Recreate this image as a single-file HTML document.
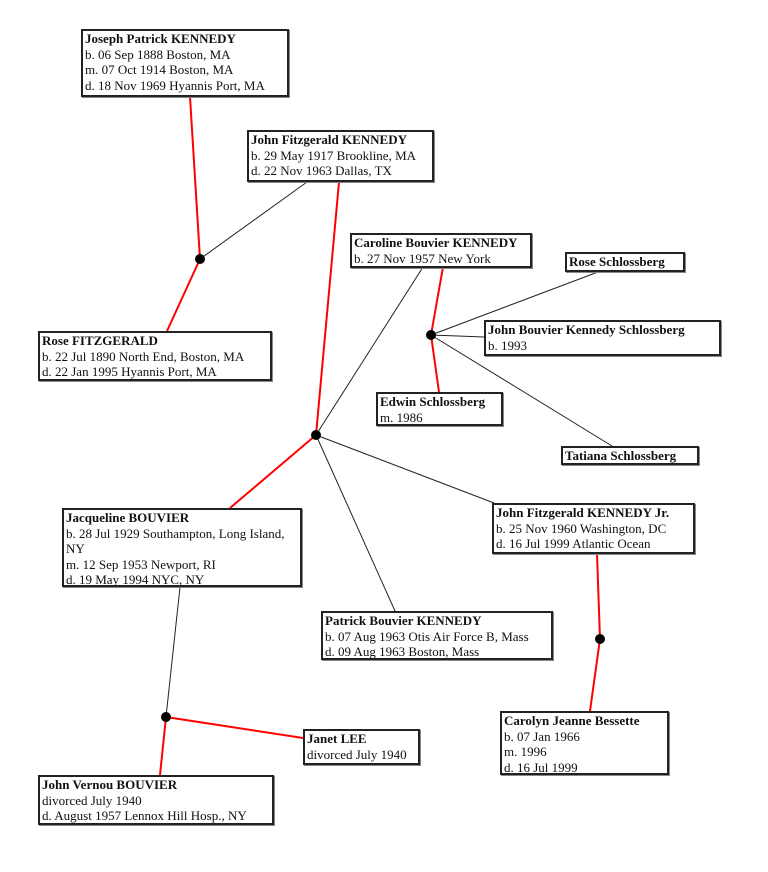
<!DOCTYPE html>
<html><head><meta charset="utf-8"><style>
body{margin:0;width:768px;height:872px;background:#fff;position:relative;overflow:hidden;font-family:"Liberation Serif","DejaVu Serif",serif;font-size:13px;color:#111}
.b{position:absolute;box-sizing:border-box;border:2px solid #222;background:#fff;padding:0 2px;line-height:15.5px;white-space:nowrap;box-shadow:1px 1px 0 #888;overflow:hidden}
.b b{font-weight:bold}
svg{position:absolute;left:0;top:0}
</style></head><body>
<svg width="768" height="872">
<g stroke="red" stroke-width="2" fill="none">
<line x1="190" y1="97" x2="200" y2="259"/><line x1="200" y1="259" x2="167" y2="331"/>
<line x1="339" y1="182" x2="316" y2="435"/><line x1="316" y1="435" x2="230" y2="508"/>
<line x1="443" y1="267" x2="431" y2="335"/><line x1="431" y1="335" x2="439" y2="392"/>
<line x1="597" y1="554" x2="600" y2="639"/><line x1="600" y1="639" x2="590" y2="711"/>
<line x1="166" y1="717" x2="160" y2="775"/><line x1="166" y1="717" x2="303" y2="738"/>
</g>
<g stroke="#222" stroke-width="1" fill="none">
<line x1="200" y1="259" x2="307" y2="182"/>
<line x1="316" y1="435" x2="423" y2="267"/><line x1="316" y1="435" x2="494" y2="503"/><line x1="316" y1="435" x2="395" y2="611"/>
<line x1="431" y1="335" x2="598" y2="272"/><line x1="431" y1="335" x2="484" y2="337"/><line x1="431" y1="335" x2="612" y2="446"/>
<line x1="180" y1="587" x2="166" y2="717"/>
</g>
<g fill="#000"><circle cx="200" cy="259" r="5"/><circle cx="431" cy="335" r="5"/><circle cx="316" cy="435" r="5"/><circle cx="600" cy="639" r="5"/><circle cx="166" cy="717" r="5"/></g>
</svg>
<div class="b" style="left:81px;top:29px;width:208px;height:68px"><b>Joseph Patrick KENNEDY</b><br>b. 06 Sep 1888 Boston, MA<br>m. 07 Oct 1914 Boston, MA<br>d. 18 Nov 1969 Hyannis Port, MA</div>
<div class="b" style="left:247px;top:130px;width:187px;height:52px"><b>John Fitzgerald KENNEDY</b><br>b. 29 May 1917 Brookline, MA<br>d. 22 Nov 1963 Dallas, TX</div>
<div class="b" style="left:350px;top:233px;width:182px;height:35px"><b>Caroline Bouvier KENNEDY</b><br>b. 27 Nov 1957 New York</div>
<div class="b" style="left:565px;top:252px;width:120px;height:20px"><b>Rose Schlossberg</b></div>
<div class="b" style="left:484px;top:320px;width:237px;height:36px"><b>John Bouvier Kennedy Schlossberg</b><br>b. 1993</div>
<div class="b" style="left:376px;top:392px;width:127px;height:34px"><b>Edwin Schlossberg</b><br>m. 1986</div>
<div class="b" style="left:561px;top:446px;width:138px;height:19px"><b>Tatiana Schlossberg</b></div>
<div class="b" style="left:38px;top:331px;width:234px;height:50px"><b>Rose FITZGERALD</b><br>b. 22 Jul 1890 North End, Boston, MA<br>d. 22 Jan 1995 Hyannis Port, MA</div>
<div class="b" style="left:492px;top:503px;width:203px;height:51px"><b>John Fitzgerald KENNEDY Jr.</b><br>b. 25 Nov 1960 Washington, DC<br>d. 16 Jul 1999 Atlantic Ocean</div>
<div class="b" style="left:62px;top:508px;width:240px;height:79px;white-space:normal"><b>Jacqueline BOUVIER</b><br>b. 28 Jul 1929 Southampton, Long Island, NY<br>m. 12 Sep 1953 Newport, RI<br>d. 19 May 1994 NYC, NY</div>
<div class="b" style="left:321px;top:611px;width:232px;height:49px"><b>Patrick Bouvier KENNEDY</b><br>b. 07 Aug 1963 Otis Air Force B, Mass<br>d. 09 Aug 1963 Boston, Mass</div>
<div class="b" style="left:500px;top:711px;width:169px;height:64px"><b>Carolyn Jeanne Bessette</b><br>b. 07 Jan 1966<br>m. 1996<br>d. 16 Jul 1999</div>
<div class="b" style="left:303px;top:729px;width:117px;height:36px"><b>Janet LEE</b><br>divorced July 1940</div>
<div class="b" style="left:38px;top:775px;width:236px;height:50px"><b>John Vernou BOUVIER</b><br>divorced July 1940<br>d. August 1957 Lennox Hill Hosp., NY</div>
</body></html>
